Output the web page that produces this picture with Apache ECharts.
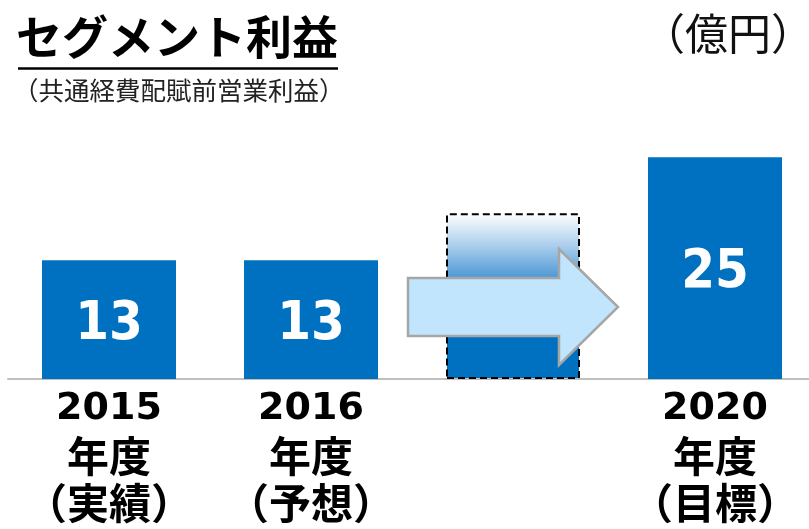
<!DOCTYPE html>
<html>
<head>
<meta charset="utf-8">
<script src="https://cdn.jsdelivr.net/npm/echarts@6/dist/echarts.min.js"></script>
<style>
html,body{margin:0;padding:0;background:#fff;}
#chart{width:809px;height:529px;}
</style>
</head>
<body>
<div id="chart"></div>
<script>
// ---- data ----
var years = ['2015', '2016', '', '2020'];
var notes = ['（実績）', '（予想）', '', '（目標）'];
var values = [13.4, 13.4, 18.7, 25];
var titleText = 'セグメント利益';
var subtitleText = '（共通経費配賦前営業利益）';
var unitText = '（億円）';

var categories = years.map(function (y, i) { return y + '|' + notes[i]; });

var chart = echarts.init(document.getElementById('chart'), null, {renderer: 'canvas'});

var BLUE = '#0070C0';
var barData = values.map(function (v, i) {
  if (years[i] === '') {
    return {
      value: v,
      itemStyle: {
        color: new echarts.graphic.LinearGradient(0, 0, 0, 1, [
          {offset: 0, color: '#ffffff'},
          {offset: 0.2, color: '#a9cdeb'},
          {offset: 0.42, color: '#3d8fd2'},
          {offset: 0.6, color: BLUE},
          {offset: 1, color: BLUE}
        ]),
        borderColor: '#000',
        borderWidth: 2,
        borderType: [7, 4]
      },
      label: {show: false}
    };
  }
  return {value: v};
});

var option = {
  animation: false,
  grid: {left: 8, width: 808, top: 113, bottom: 150, outerBoundsMode: 'none', containLabel: false},
  xAxis: {
    type: 'category',
    data: categories,
    axisTick: {show: false},
    axisLine: {lineStyle: {color: '#bfbfbf', width: 2}},
    axisLabel: {
      interval: 0,
      margin: 6,
      formatter: function (val) {
        var p = val.split('|');
        if (!p[0]) return '';
        return '{y|' + p[0] + '}\n{c|年度}\n{c|' + p[1] + '}';
      },
      rich: {
        y: {fontFamily: 'DejaVu Sans', fontWeight: 'bold', fontSize: 38, lineHeight: 48, color: '#000'},
        c: {fontFamily: 'Noto Sans CJK JP', fontWeight: 'bold', fontSize: 42, lineHeight: 47, color: '#000'}
      }
    }
  },
  yAxis: {type: 'value', min: 0, max: 30, show: false, splitLine: {show: false}},
  series: [{
    type: 'bar',
    data: barData,
    barWidth: 134,
    itemStyle: {color: BLUE},
    label: {
      show: true,
      position: 'inside',
      offset: [0, 5],
      color: '#fff',
      fontFamily: 'DejaVu Sans Condensed, DejaVu Sans',
      fontWeight: 'bold',
      fontSize: 54,
      formatter: function (p) { return Math.round(p.value); }
    }
  }]
};
chart.setOption(option);

// decorative elements placed relative to the chart's own scale
var axisY = chart.convertToPixel({yAxisIndex: 0}, 0);
var cx = chart.convertToPixel({xAxisIndex: 0}, categories[2]);
var ay = axisY - 72;
var arrow = [
  [cx - 105, ay - 29], [cx + 46, ay - 29], [cx + 46, ay - 58],
  [cx + 105, ay], [cx + 46, ay + 58], [cx + 46, ay + 29], [cx - 105, ay + 29]
];

chart.setOption({
  graphic: [
    {type: 'text', left: 16, top: 14, z: 10,
      style: {text: titleText, fontFamily: 'Noto Sans CJK JP', fontWeight: 'bold', fontSize: 46, fill: '#000'}},
    {type: 'line', z: 10, shape: {x1: 18, y1: 68.5, x2: 338, y2: 68.5}, style: {stroke: '#000', lineWidth: 2.5}},
    {type: 'text', left: 13, top: 78, z: 10,
      style: {text: subtitleText, fontFamily: 'Noto Sans CJK JP', fontSize: 25.5, fill: '#222'}},
    {type: 'text', z: 10, x: 728, y: 34,
      style: {text: unitText, fontFamily: 'Noto Sans CJK JP', fontSize: 43, fill: '#111', align: 'center', verticalAlign: 'middle'}},
    {type: 'polygon', z: 20, shape: {points: arrow},
      style: {fill: '#c1e5fc', stroke: '#a6a6a6', lineWidth: 2.5}}
  ]
});
</script>
</body>
</html>
